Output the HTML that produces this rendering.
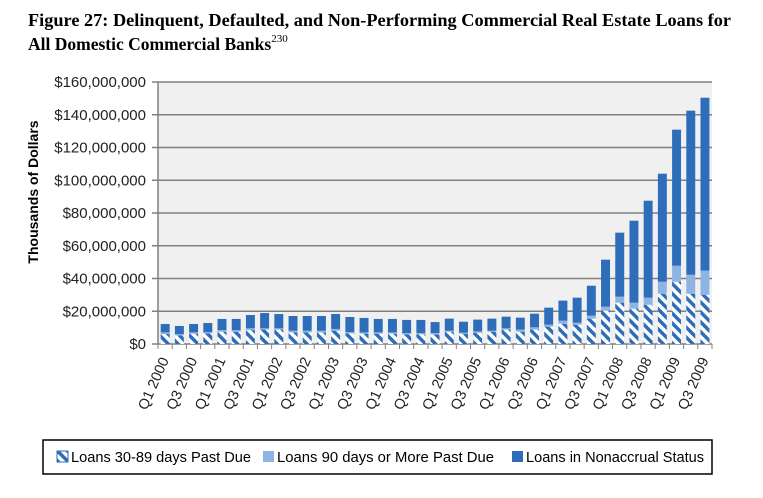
<!DOCTYPE html>
<html><head><meta charset="utf-8"><style>
body{margin:0;background:#fff;width:763px;height:493px;overflow:hidden}
svg text{font-family:"Liberation Sans",sans-serif}
</style></head><body>
<svg width="763" height="493" xmlns="http://www.w3.org/2000/svg">
<defs>
<pattern id="hatch" patternUnits="userSpaceOnUse" width="7" height="7" patternTransform="rotate(-45)">
<rect width="7" height="7" fill="#fff"/><rect width="3.5" height="7" fill="#2e6dba"/>
</pattern>
</defs>
<text x="28" y="26" font-weight="bold" font-size="17.5" textLength="703" lengthAdjust="spacingAndGlyphs" style="font-family:'Liberation Serif',serif">Figure 27: Delinquent, Defaulted, and Non-Performing Commercial Real Estate Loans for</text>
<text x="28" y="50" font-weight="bold" font-size="17.5" style="font-family:'Liberation Serif',serif">All Domestic Commercial Banks<tspan font-size="11" dy="-8" font-weight="normal">230</tspan></text>
<rect x="158" y="82" width="554" height="262" fill="#f0f0f0"/>
<g id="grid"></g>
<g id="bars"></g>
<g id="xl"></g>
<text transform="translate(38,192) rotate(-90)" text-anchor="middle" font-weight="bold" font-size="14">Thousands of Dollars</text>
<rect x="43" y="440" width="669" height="34" fill="#fff" stroke="#000" stroke-width="1.5"/>
<g><rect x="57" y="451" width="11" height="11" fill="url(#hatch)" stroke="#2e6dba"/><text x="71" y="462" font-size="14.5" textLength="180" lengthAdjust="spacingAndGlyphs">Loans 30-89 days Past Due</text></g>
<g><rect x="263" y="451" width="11" height="11" fill="#8eb4e3"/><text x="277" y="462" font-size="14.5" textLength="217" lengthAdjust="spacingAndGlyphs">Loans 90 days or More Past Due</text></g>
<g><rect x="512" y="451" width="11" height="11" fill="#2e6dba"/><text x="526" y="462" font-size="14.5" textLength="178" lengthAdjust="spacingAndGlyphs">Loans in Nonaccrual Status</text></g>
</svg>
<script>
const categories = [];
for (let y = 2000; y <= 2009; y++) for (let q = 1; q <= 4; q++) if (!(y === 2009 && q === 4)) categories.push('Q' + q + ' ' + y);
const pastDue3089 = [6.1,5.3,6.3,6.5,7.5,7.5,8.5,8.8,8.8,7.1,7.1,7.1,8.1,6.5,6.3,6.3,6.3,5.9,5.9,5.9,7.5,6.3,6.9,7.5,8.8,7.5,8.8,10.6,12.4,11.8,15.5,20.4,25.2,21.6,24,30.7,38,30.7,30.1];
const pastDue90 = [1.0,0.8,0.8,0.8,1.0,1.0,1.1,0.8,0.8,1.0,1.0,1.0,1.1,0.8,0.8,0.8,0.8,0.8,0.8,0.8,0.6,0.6,0.8,0.6,0.8,1.3,1.4,1.2,1.8,1.2,1.8,2.4,3.7,3.6,4.3,7.3,9.8,11.6,14.7];
const nonaccrual = [5.1,4.9,5.1,5.5,6.8,6.8,8.1,9.3,8.7,9.0,9.0,9.0,9.1,9.2,8.8,8.2,8.2,8.0,8.0,6.7,7.4,6.7,7.2,7.4,7.1,7.3,8.3,10.4,12.3,15.3,18.3,28.7,39.1,50.1,59.2,66,83.1,100.2,105.6];
const yTicks = [0,20,40,60,80,100,120,140,160];
const NS = 'http://www.w3.org/2000/svg';
const X0 = 158, W = 554, Y0 = 344, H = 262, YMAX = 160;
const bw = W / categories.length;
const yS = v => Y0 - v / YMAX * H;
const xS = i => X0 + i * bw;
function mk(tag, attrs, parent) { const e = document.createElementNS(NS, tag); for (const k in attrs) e.setAttribute(k, attrs[k]); parent.appendChild(e); return e; }
const grid = document.getElementById('grid'), bars = document.getElementById('bars'), xl = document.getElementById('xl');
yTicks.forEach(t => {
  const l = mk('line', {x1: X0 - 6, x2: X0 + W, y1: yS(t), y2: yS(t), stroke: '#808080', 'stroke-width': 1.5}, grid);
  
  
  const tx = mk('text', {x: 146, y: yS(t) + 5, 'text-anchor': 'end', 'font-size': 15, fill: '#222'}, grid);
  tx.textContent = '$' + (t * 1000000).toLocaleString('en-US');
  
  
});
mk('line', {x1: X0, x2: X0, y1: 82, y2: Y0, stroke: '#808080', 'stroke-width': 1.5}, grid);
categories.forEach((c, i) => {
  const x = xS(i) + bw * 0.19, w = bw * 0.63;
  const a = pastDue3089[i], b = pastDue90[i], n = nonaccrual[i];
  const r1 = mk('rect', {x, y: yS(a), width: w, height: yS(0) - yS(a), fill: 'url(#hatch)'}, bars);
  
  
  const r2 = mk('rect', {x, y: yS(a + b), width: w, height: yS(a) - yS(a + b), fill: '#8eb4e3'}, bars);
  
  
  const r3 = mk('rect', {x, y: yS(a + b + n), width: w, height: yS(a + b) - yS(a + b + n), fill: '#2e6dba'}, bars);
  
  
  mk('line', {x1: xS(i), x2: xS(i), y1: Y0, y2: Y0 + 5, stroke: '#808080'}, grid);
  if (i % 2 === 0) {
    const cx = xS(i) + bw / 2 + 4;
    const t = mk('text', {x: 0, y: 0, 'text-anchor': 'end', 'font-size': 14.5, fill: '#222', transform: 'translate(' + cx + ',360) rotate(-66)'}, xl);
    t.textContent = c;
    
    
  }
});
mk('line', {x1: X0 + W, x2: X0 + W, y1: Y0, y2: Y0 + 5, stroke: '#808080'}, grid);
</script>
</body></html>
